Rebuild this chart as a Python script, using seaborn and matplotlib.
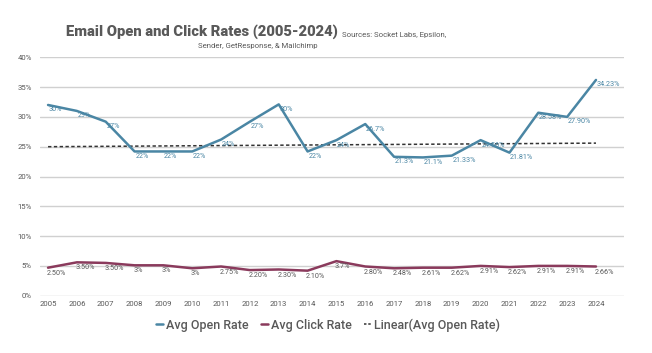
import matplotlib
matplotlib.use("Agg")
import matplotlib.pyplot as plt
import seaborn as sns
import pandas as pd
import numpy as np
from matplotlib.lines import Line2D

years = list(range(2005, 2025))
open_rate = [32.0, 31.0, 29.2, 24.2, 24.2, 24.2, 26.2, 29.2, 32.1, 24.2,
             26.1, 28.8, 23.3, 23.2, 23.5, 26.1, 24.0, 30.7, 30.0, 36.2]
open_labels = ["30%", "29%", "27%", "22%", "22%", "22%", "24%", "27%", "30%", "22%",
               "24%", "26.7%", "21.3%", "21.1%", "21.33%", "24.56%", "21.81%", "28.58%", "27.90%", "34.23%"]
click_rate = [4.7, 5.6, 5.5, 5.1, 5.1, 4.6, 4.9, 4.3, 4.4, 4.2,
              5.8, 4.9, 4.6, 4.7, 4.7, 5.0, 4.8, 5.0, 5.0, 4.9]
click_labels = ["2.50%", "3.50%", "3.50%", "3%", "3%", "3%", "2.75%", "2.20%", "2.30%", "2.10%",
                "3.7%", "2.80%", "2.48%", "2.61%", "2.62%", "2.91%", "2.62%", "2.91%", "2.91%", "2.66%"]
trend_years = [2005, 2024]
trend_values = [25.0, 25.6]
y_ticks = [0, 5, 10, 15, 20, 25, 30, 35, 40]

OPEN_C = "#4a86a4"
CLICK_C = "#8a3a5c"
GRAY = "#595959"

sns.set_style("white")
plt.rcParams["font.family"] = ["Roboto", "DejaVu Sans"]

df = pd.DataFrame({"year": years, "open": open_rate, "click": click_rate})
tdf = pd.DataFrame({"year": trend_years, "trend": trend_values})

fig = plt.figure(figsize=(6.52, 3.53), dpi=100)
ax = fig.add_axes([0.0613, 0.1623, 0.8957, 0.6754])

for y in y_ticks:
    ax.axhline(y, color="#d0d0d0", lw=1.0, zorder=0)

sns.lineplot(data=tdf, x="year", y="trend", ax=ax, color="#333333", lw=1.1,
             linestyle=(0, (2.2, 1.6)), zorder=2)
sns.lineplot(data=df, x="year", y="open", ax=ax, color=OPEN_C, lw=1.8, zorder=3)
sns.lineplot(data=df, x="year", y="click", ax=ax, color=CLICK_C, lw=1.8, zorder=3)

for x, v, t in zip(years, open_rate, open_labels):
    ax.annotate(t, (x, v), xytext=(0.5, -3.6), textcoords="offset points",
                ha="left", va="center", fontsize=5.2, color=OPEN_C, zorder=4)
for x, v, t in zip(years, click_rate, click_labels):
    ax.annotate(t, (x, v), xytext=(-1, -4.0), textcoords="offset points",
                ha="left", va="center", fontsize=5.2, color=GRAY, zorder=4)

ax.set_xlim(2004.72, 2024.97)
ax.set_ylim(0, 40)
ax.set_yticks(y_ticks)
ax.set_yticklabels([f"{v}%" for v in y_ticks])
ax.set_xticks(years)
ax.set_xticklabels([str(y) for y in years])
ax.tick_params(axis="both", length=0, labelsize=5.6, colors=GRAY)
ax.tick_params(axis="y", pad=6)
ax.tick_params(axis="x", pad=4)
ax.set_xlabel("")
ax.set_ylabel("")
for s in ax.spines.values():
    s.set_visible(False)

fig.text(66/652, 1-32/353, "Email Open and Click Rates (2005-2024)", fontsize=10.6,
         fontweight="black", color=GRAY, ha="left", va="center")
fig.text(342/652, 1-35/353, "Sources: Socket Labs, Epsilon,", fontsize=5.6,
         color=GRAY, ha="left", va="center")
fig.text(258/652, 1-46/353, "Sender, GetResponse, & Mailchimp", fontsize=5.6,
         color=GRAY, ha="center", va="center")

handles = [Line2D([], [], color=OPEN_C, lw=1.8),
           Line2D([], [], color=CLICK_C, lw=1.8),
           Line2D([], [], color="#333333", lw=1.1, linestyle=(0, (1.6, 1.2)))]
fig.legend(handles, ["Avg Open Rate", "Avg Click Rate", "Linear(Avg Open Rate)"],
           loc="center", bbox_to_anchor=(0.503, 0.079), ncol=3, frameon=False,
           prop={"size": 9, "weight": "medium"}, labelcolor=GRAY,
           handlelength=0.6, handletextpad=0.2, columnspacing=1.0)

fig.savefig("out.png", dpi=100)
